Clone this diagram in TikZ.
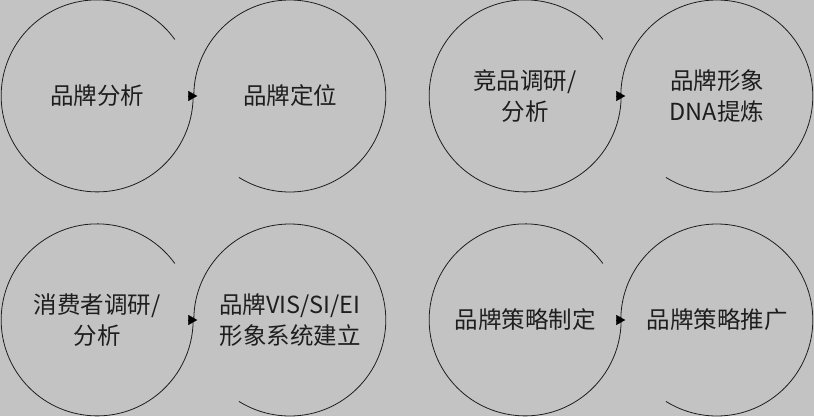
\documentclass[tikz,border=0pt]{standalone}
\usepackage{fontspec}
\newfontfamily\cjk{Noto Sans CJK SC}
\usepackage{tikz}
\usetikzlibrary{arrows.meta,positioning}
\usepackage{xcolor}
\definecolor{bggray}{RGB}{195,195,195}
\definecolor{inkgray}{RGB}{30,30,30}
\tikzstyle{stage} = [circle, minimum size=192pt, inner sep=0pt, align=center, text=inkgray, font=\cjk\fontsize{23.5}{31}\selectfont]
\tikzstyle{loopline} = [line width=0.8pt, color=inkgray]
\tikzstyle{junction} = [-{Triangle[length=9pt,width=10pt]}, line width=0.1pt, color=black]

\begin{document}
\begin{tikzpicture}[x=1pt, y=1pt]
% Background
\fill[bggray] (0,0) rectangle (814,416);
\useasboundingbox (0,0) rectangle (814,416);

% Stages
\node[stage] (analyse) at (97,320) {品牌分析};
\node[stage] (position) at (290,320) {品牌定位};
\node[stage] (rival) at (525,320) {竞品调研/\\分析};
\node[stage] (dna) at (717,320) {品牌形象\\DNA提炼};
\node[stage] (consumer) at (97,96) {消费者调研/\\分析};
\node[stage] (vis) at (290,96) {品牌VIS/SI/EI\\形象系统建立};
\node[stage] (plan) at (525,96) {品牌策略制定};
\node[stage] (promo) at (717,96) {品牌策略推广};

% Open arcs
\foreach \a/\b in {analyse/position, rival/dna, consumer/vis, plan/promo} {
  \draw[loopline] (\a.36) arc[start angle=36, end angle=360, radius=96pt];
  \draw[loopline] (\b.180) arc[start angle=180, end angle=-122, radius=96pt];
  \draw[junction] ([xshift=-5pt]\a.east) -- ([xshift=4pt]\a.east);
}
\end{tikzpicture}
\end{document}
